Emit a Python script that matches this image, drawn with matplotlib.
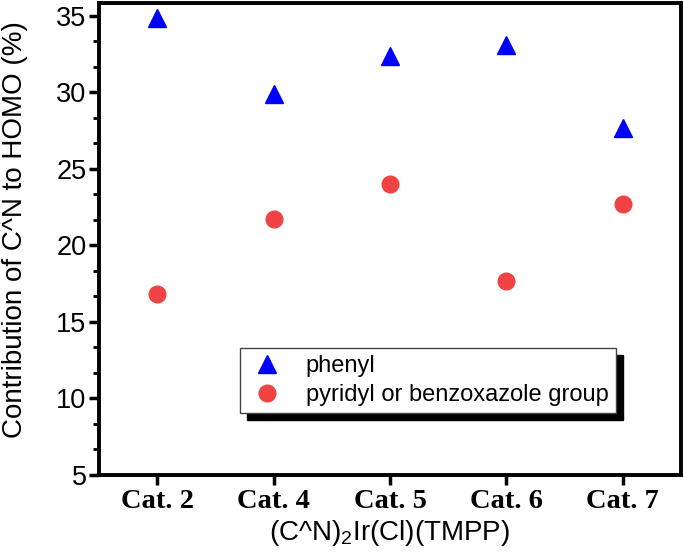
import numpy as np
import matplotlib
matplotlib.use('Agg')
import matplotlib.pyplot as plt
from matplotlib.ticker import MultipleLocator

# 数据
categories = ['Cat. 2', 'Cat. 4', 'Cat. 5', 'Cat. 6', 'Cat. 7']
phenyl = [34.9, 29.9, 32.4, 33.1, 27.7]
pyridyl = [16.8, 21.7, 24.0, 17.7, 22.7]

plt.rcParams['font.family'] = ['Liberation Sans', 'DejaVu Sans']
plt.rcParams['mathtext.fontset'] = 'custom'
plt.rcParams['mathtext.rm'] = 'Liberation Sans'
plt.rcParams['mathtext.it'] = 'Liberation Sans:italic'

fig = plt.figure(figsize=(6.84, 5.54), dpi=100)
ax = fig.add_axes([0.1447, 0.1426, 0.8509, 0.852])

x = np.arange(len(categories))
ax.plot(x, phenyl, linestyle='none', marker='^', markersize=13.5,
        color='#0000ff', label='phenyl')
ax.plot(x, pyridyl, linestyle='none', marker='o', markersize=12,
        color='#f04343', label='pyridyl or benzoxazole group')

ax.set_xlim(-0.5, 4.5)
ax.set_ylim(5, 35.85)
ax.set_xticks(x)
ax.set_xticklabels(categories, family='Liberation Serif', fontweight='bold', fontsize=20.5)
ax.yaxis.set_major_locator(MultipleLocator(5))
ax.yaxis.set_minor_locator(MultipleLocator(5 / 3))
ax.tick_params(axis='y', labelsize=19.5, width=2.5, length=7, direction='out', pad=2)
ax.tick_params(axis='y', which='minor', width=2, length=4, direction='out')
ax.tick_params(axis='x', width=2.5, length=7, direction='out', pad=3)

for s in ax.spines.values():
    s.set_linewidth(2.8)

ax.set_ylabel('Contribution of C^N to HOMO (%)', fontsize=20)
ax.yaxis.set_label_coords(-0.122, 0.52)
ax.set_xlabel('(C^N)$\\mathregular{_2}$Ir(Cl)(TMPP)', fontsize=20, labelpad=3)

leg = ax.legend(loc='upper left', bbox_to_anchor=(0.242, 0.269), borderaxespad=0,
                fontsize=17, frameon=True, fancybox=False, framealpha=1,
                edgecolor='#444444', handletextpad=0.8, handlelength=1.7,
                borderpad=0.3, labelspacing=0.3,
                shadow={'ox': 5, 'oy': -5, 'color': 'black', 'alpha': 1})
leg.get_frame().set_linewidth(1)

fig.savefig('out.png', dpi=100)
